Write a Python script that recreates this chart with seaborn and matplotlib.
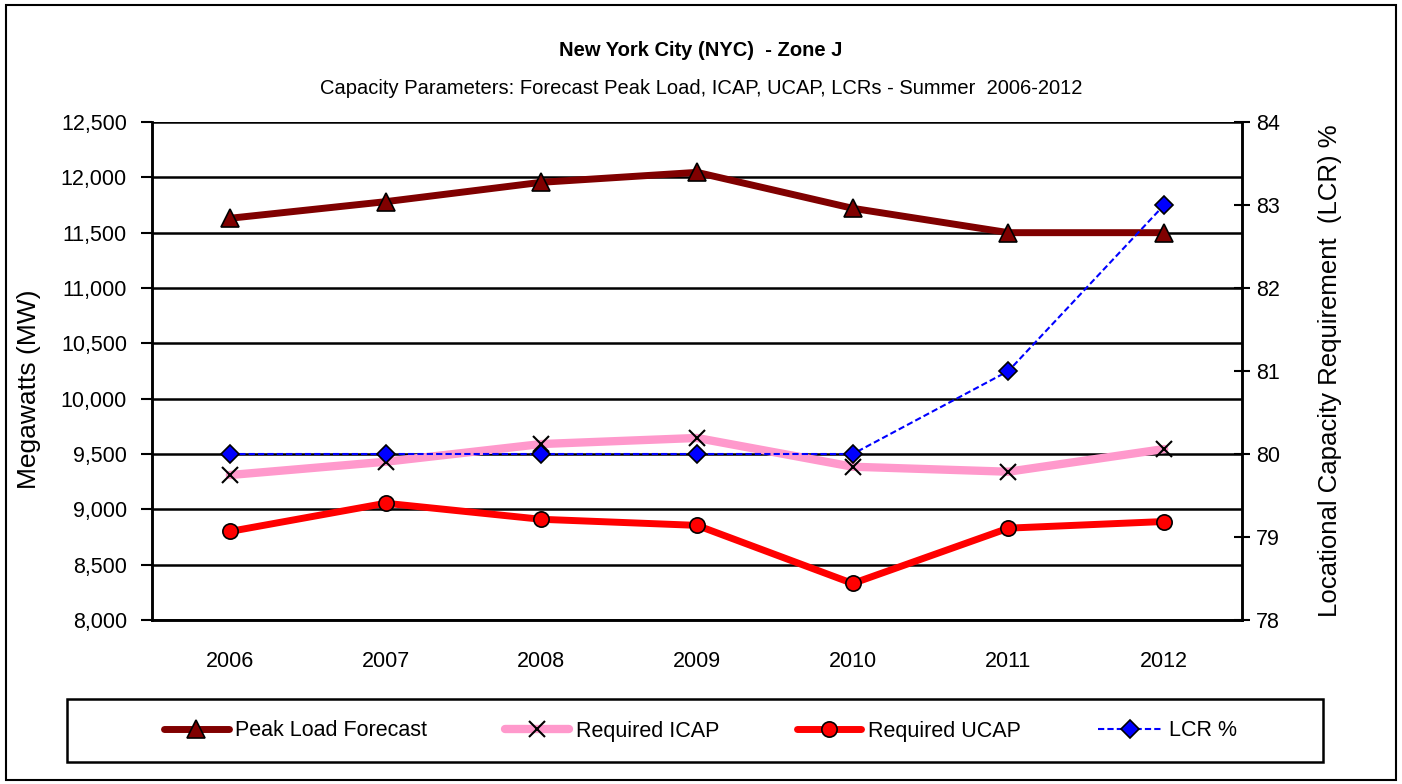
import matplotlib
matplotlib.use("Agg")
import matplotlib.pyplot as plt
import seaborn as sns
import pandas as pd
from matplotlib.patches import Rectangle

years = ["2006", "2007", "2008", "2009", "2010", "2011", "2012"]
peak_load = [11630, 11780, 11955, 12045, 11720, 11500, 11500]
required_icap = [9310, 9430, 9590, 9645, 9385, 9340, 9545]
required_ucap = [8800, 9055, 8910, 8855, 8330, 8830, 8890]
lcr_pct = [80, 80, 80, 80, 80, 81, 83]

title_main = "New York City (NYC)  - Zone J"
title_sub = "Capacity Parameters: Forecast Peak Load, ICAP, UCAP, LCRs - Summer  2006-2012"
left_label = "Megawatts (MW)"
right_label = "Locational Capacity Requirement  (LCR) %"
series_names = ["Peak Load Forecast", "Required ICAP", "Required UCAP", "LCR %"]

sns.set_theme(style="white")
plt.rcParams["font.family"] = ["Liberation Sans", "DejaVu Sans"]
plt.rcParams["text.color"] = "black"
plt.rcParams["axes.labelcolor"] = "black"
plt.rcParams["xtick.color"] = "black"
plt.rcParams["ytick.color"] = "black"

df = pd.DataFrame({
    "x": list(range(len(years))),
    "peak": peak_load,
    "icap": required_icap,
    "ucap": required_ucap,
    "lcr": lcr_pct,
})

fig = plt.figure(figsize=(14.02, 7.84), dpi=100)
fig.patch.set_facecolor("white")
ax = fig.add_axes([152 / 1402, 1 - 620 / 784, (1242 - 152) / 1402, (620 - 122) / 784])
ax2 = ax.twinx()

sns.lineplot(data=df, x="x", y="peak", ax=ax, color="#800000", lw=5,
             marker="^", markersize=13, markerfacecolor="#800000",
             markeredgecolor="black", markeredgewidth=1.2, label=series_names[0], legend=False, zorder=4)
sns.lineplot(data=df, x="x", y="icap", ax=ax, color="#FF99CC", lw=6,
             marker="x", markersize=11, markeredgecolor="black",
             markeredgewidth=1.5, label=series_names[1], legend=False, zorder=4)
sns.lineplot(data=df, x="x", y="ucap", ax=ax, color="#FF0000", lw=5,
             marker="o", markersize=11, markerfacecolor="#FF0000",
             markeredgecolor="black", markeredgewidth=1.2, label=series_names[2], legend=False, zorder=4)
sns.lineplot(data=df, x="x", y="lcr", ax=ax2, color="#0000FF", lw=1.5,
             linestyle=(0, (3, 1.5)), marker="D", markersize=9,
             markerfacecolor="#0000FF", markeredgecolor="black",
             markeredgewidth=1.2, label=series_names[3], legend=False, zorder=5)

ax.set_xlim(-0.5, len(years) - 0.5)
ax.set_ylim(8000, 12500)
ax.set_yticks(range(8000, 12501, 500))
ax.set_yticklabels([f"{v:,}" for v in range(8000, 12501, 500)])
ax2.set_ylim(78, 84)
ax2.set_yticks(range(78, 85))

ax.set_xticks(range(len(years)))
ax.set_xticklabels(years)
ax.set_xticks([i - 0.5 for i in range(len(years) + 1)], minor=True)
ax.tick_params(axis="x", which="major", length=0, pad=22, labelsize=15.5)
ax.tick_params(axis="x", which="minor", length=8, width=1.5, direction="out", color="black")
ax.tick_params(axis="y", which="major", length=8, width=1.5, direction="out",
               color="black", labelsize=15.5, pad=10, left=True)
ax2.tick_params(axis="y", which="major", length=12, width=1.5, direction="inout",
                color="black", labelsize=15.5, pad=4, right=True)

ax.set_xlabel("")
ax.set_ylabel(left_label, fontsize=19, va="center")
ax.yaxis.set_label_coords((29 - 152) / 1090, (620 - 389) / 498)
ax2.set_ylabel(right_label, fontsize=18.5, va="center")
ax2.yaxis.set_label_coords((1330 - 152) / 1090, 0.5)

ax.grid(axis="y", color="black", lw=1.8)
ax.grid(axis="x", visible=False)
ax2.grid(False)
ax.set_axisbelow(True)

for a in (ax, ax2):
    a.spines["top"].set_visible(False)
    for s in ("left", "right", "bottom"):
        a.spines[s].set_color("black")
        a.spines[s].set_linewidth(1.8)
ax.patch.set_alpha(0)

fig.text(0.5, 1 - 50 / 784, title_main, ha="center", va="center",
         fontsize=14.5, fontweight="bold")
fig.text(0.5, 1 - 88 / 784, title_sub, ha="center", va="center", fontsize=14.5)

h1, l1 = ax.get_legend_handles_labels()
h2, l2 = ax2.get_legend_handles_labels()
leg = fig.legend(h1 + h2, l1 + l2, loc="center", ncol=4,
                 bbox_to_anchor=((67 + 1323) / 2 / 1402 + 0.004, 1 - 731 / 784),
                 frameon=False, fontsize=15.5, handlelength=3.0,
                 handletextpad=0.3, columnspacing=3.6)

fig.patches.append(Rectangle((67 / 1402, 1 - 762 / 784), (1323 - 67) / 1402, 63 / 784,
                             transform=fig.transFigure, fill=False,
                             edgecolor="black", lw=1.8))
fig.patches.append(Rectangle((6 / 1402, 4 / 784), 1390 / 1402, 775 / 784,
                             transform=fig.transFigure, fill=False,
                             edgecolor="black", lw=1.5))

fig.savefig("out.png", dpi=100, facecolor="white")
